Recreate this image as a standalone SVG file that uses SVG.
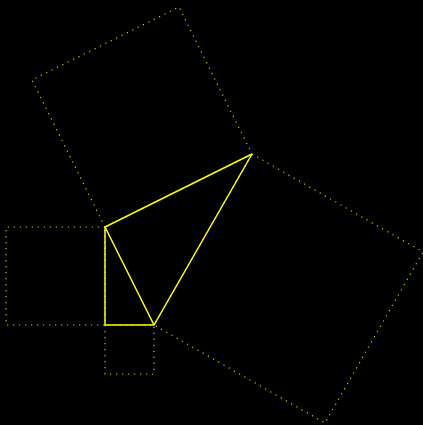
<svg xmlns="http://www.w3.org/2000/svg" width="423" height="425" viewBox="0 0 423 425">
<style>
.sq{fill:none;stroke:#c8c800;stroke-width:1.2;stroke-dasharray:1.2 4.8}
.tri{fill:none;stroke:#ffff00;stroke-width:1.5}
</style>
<rect width="423" height="425" fill="#000"/>
<g id="squares">
<polygon id="sq-left" class="sq" points="105,227 6,227 6,325 105,325"/>
<polygon id="sq-bottom" class="sq" points="105,325 105,374 154,374 154,325"/>
<polygon id="sq-top" class="sq" points="105,227 32,80 179,7 252,154"/>
<polygon id="sq-right" class="sq" points="252,154 423,252 325,423 154,325"/>
</g>
<g id="connectors">
<polyline class="tri" points="252,154 105,227 105,325 154,325 252,154"/>
<line class="tri" x1="105" y1="227" x2="154" y2="325"/>
</g>
</svg>
